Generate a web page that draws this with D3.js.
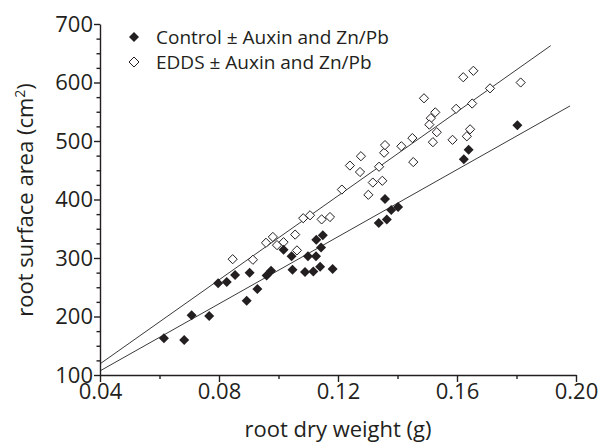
<!DOCTYPE html>
<html><head><meta charset="utf-8">
<script src="https://cdn.jsdelivr.net/npm/d3@7"></script>
<style>
html,body{margin:0;padding:0;background:#fff;}
text{font-family:"Open Sans","Noto Sans",sans-serif;fill:#231f20;}
</style></head>
<body>
<svg id="chart" width="602" height="446"></svg>
<script>
// Control ± Auxin and Zn/Pb (filled diamonds)
const controlX = [0.0615,0.0683,0.0708,0.0767,0.0797,0.0826,0.0854,0.0893,0.0903,0.0929,0.0960,0.0975,0.1017,0.1044,0.1047,0.1089,0.1099,0.1117,0.1126,0.1140,0.1127,0.1143,0.1149,0.1182,0.1337,0.1364,0.1358,0.1379,0.1402,0.1623,0.1639,0.1803];
const controlY = [163,160,202,201,257,259,271,227,275,247,270,278,314,303,280,276,303,277,303,285,331,318,339,281,360,366,401,382,387,469,485,527];
// EDDS ± Auxin and Zn/Pb (open diamonds)
const eddsX = [0.0846,0.0914,0.0958,0.0981,0.0995,0.1017,0.1056,0.1062,0.1083,0.1106,0.1145,0.1173,0.1213,0.1240,0.1274,0.1277,0.1302,0.1317,0.1338,0.1349,0.1355,0.1358,0.1413,0.1450,0.1453,0.1489,0.1512,0.1507,0.1527,0.1532,0.1519,0.1585,0.1597,0.1621,0.1655,0.1651,0.1644,0.1633,0.1711,0.1814];
const eddsY = [298,297,326,336,322,327,340,313,368,373,366,370,417,458,447,474,408,429,456,432,480,493,491,505,464,573,539,528,549,515,498,502,555,609,620,564,520,508,590,600];
// regression lines (endpoints)
const controlFitX = [0.04,0.198];
const controlFitY = [107,560];
const eddsFitX = [0.04,0.1915];
const eddsFitY = [119,663];
// ticks
const xTicks = [0.04,0.08,0.12,0.16,0.20];
const xMinor = [0.06,0.10,0.14,0.18];
const yTicks = [100,200,300,400,500,600,700];
const yMinor = [125,150,175,225,250,275,325,350,375,425,450,475,525,550,575,625,650,675];
const legendLabels = ["Control \u00b1 Auxin and Zn/Pb","EDDS \u00b1 Auxin and Zn/Pb"];

const svg = d3.select("#chart");
const ink = "#231f20";
const x = d3.scaleLinear().domain([0.04,0.20]).range([100,576]);
const y = d3.scaleLinear().domain([100,700]).range([375,24]);

const diamond = r => `M0,${-r}L${r},0L0,${r}L${-r},0Z`;

// regression lines
const line = d3.line().x(d=>x(d[0])).y(d=>y(d[1]));
[[controlFitX,controlFitY],[eddsFitX,eddsFitY]].forEach(([xs,ys])=>{
  svg.append("path").attr("d",line(xs.map((v,i)=>[v,ys[i]])))
    .attr("fill","none").attr("stroke","#3a3a3a").attr("stroke-width",1);
});

// points
svg.append("g").selectAll("path").data(eddsX.map((v,i)=>[v,eddsY[i]])).join("path")
  .attr("transform",d=>`translate(${x(d[0])},${y(d[1])})`)
  .attr("d",diamond(4.6)).attr("fill","#fff").attr("stroke",ink).attr("stroke-width",1);
svg.append("g").selectAll("path").data(controlX.map((v,i)=>[v,controlY[i]])).join("path")
  .attr("transform",d=>`translate(${x(d[0])},${y(d[1])})`)
  .attr("d",diamond(5)).attr("fill",ink);

// x axis
const xg = svg.append("g").attr("transform","translate(0,375)");
xg.call(d3.axisBottom(x).tickValues(xTicks).tickFormat(d3.format(".2f")).tickSizeInner(7).tickSizeOuter(0));
xg.append("g").call(d3.axisBottom(x).tickValues(xMinor).tickFormat("").tickSizeInner(4).tickSizeOuter(0)).select(".domain").remove();
xg.selectAll("line,path").attr("stroke",ink).attr("stroke-width",1.4);
xg.selectAll("text").attr("font-size",22).attr("dy",null).attr("y",24).style("font-family","Open Sans").attr("fill",ink);

// y axis
const yg = svg.append("g").attr("transform","translate(100,0)");
yg.call(d3.axisLeft(y).tickValues(yTicks).tickSizeInner(6).tickSizeOuter(0));
yg.append("g").call(d3.axisLeft(y).tickValues(yMinor).tickFormat("").tickSizeInner(3.5).tickSizeOuter(0)).select(".domain").remove();
yg.selectAll("line,path").attr("stroke",ink).attr("stroke-width",1.4);
yg.selectAll("text").attr("font-size",22).attr("x",-7).attr("dy","0.34em").style("font-family","Open Sans").attr("fill",ink);

// axis titles
svg.append("text").attr("x",338).attr("y",437).attr("text-anchor","middle")
  .attr("font-size",22).text("root dry weight (g)");
const yt = svg.append("text").attr("transform","translate(33,200) rotate(-90)")
  .attr("text-anchor","middle").attr("font-size",22);
yt.append("tspan").text("root surface area (cm");
yt.append("tspan").attr("dy",-8).attr("font-size",14).text("2");
yt.append("tspan").attr("dy",8).text(")");

// legend
const lg = svg.append("g");
legendLabels.forEach((t,i)=>{
  const cy = 37 + i*25;
  lg.append("path").attr("transform",`translate(134,${cy})`).attr("d",diamond(5))
    .attr("fill", i===0 ? ink : "#fff").attr("stroke", i===0 ? "none" : ink).attr("stroke-width",1);
  lg.append("text").attr("x",156).attr("y",cy+7).attr("font-size",19).text(t);
});
</script>
</body></html>
